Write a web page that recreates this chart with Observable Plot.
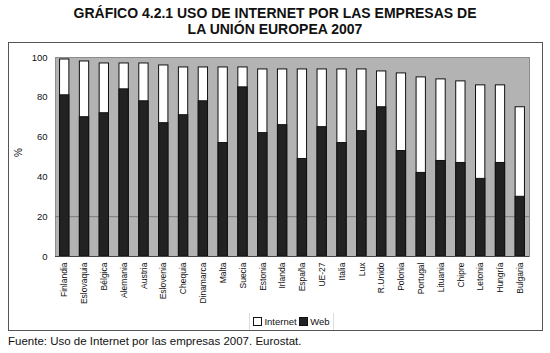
<!DOCTYPE html>
<html>
<head>
<meta charset="utf-8">
<script src="https://cdn.jsdelivr.net/npm/d3@7"></script>
<script src="https://cdn.jsdelivr.net/npm/@observablehq/plot@0.6"></script>
<style>
  body { margin: 0; background: white; width: 550px; height: 353px; position: relative; overflow: hidden;
         font-family: "Liberation Sans", Arial, sans-serif; }
  #title { position: absolute; top: 5px; left: 0; width: 550px; text-align: center;
           font-weight: bold; font-size: 14px; line-height: 16px; color: #111; }
  #box { position: absolute; left: 8px; top: 42px; width: 533px; height: 287px; border: 1px solid #555; }
  #chart { position: absolute; left: 0; top: 0; }
  #legend { position: absolute; left: 240px; top: 270px; width: 83px; height: 17px;
            border-left: 1px solid #ddd; border-right: 1px solid #ddd;
            font-size: 9.5px; color: #111; line-height: 17px; text-align: center; white-space: nowrap; }
  .sw { display: inline-block; width: 7px; height: 7px; border: 1px solid #111; vertical-align: -1px; margin-right: 2px; }
  #caption { position: absolute; left: 8px; top: 335px; font-size: 11.5px; color: #111; }
</style>
</head>
<body>
<div id="title">GRÁFICO 4.2.1 USO DE INTERNET POR LAS EMPRESAS DE<br>LA UNIÓN EUROPEA 2007</div>
<div id="box">
  <div id="chart"></div>
  <div id="legend"><span class="sw" style="background:white"></span>Internet <span class="sw" style="background:#222"></span>Web</div>
</div>
<div id="caption">Fuente: Uso de Internet por las empresas 2007. Eurostat.</div>
<script>
const countries = ["Finlandia","Eslovaquia","Bélgica","Alemania","Austria","Eslovenia","Chequia","Dinamarca","Malta","Suecia","Estonia","Irlanda","España","UE-27","Italia","Lux","R.Unido","Polonia","Portugal","Lituania","Chipre","Letonia","Hungría","Bulgaria"];
const internet = [99,98,97,97,97,96,95,95,95,95,94,94,94,94,94,94,93,92,90,89,88,86,86,75];
const web = [81,70,72,84,78,67,71,78,57,85,62,66,49,65,57,63,75,53,42,48,47,39,47,30];
const yTicks = [0,20,40,60,80,100];

const data = countries.map((c, i) => ({country: c, internet: internet[i], web: web[i]}));

const plot = Plot.plot({
  width: 533,
  height: 270,
  marginTop: 14,
  marginLeft: 46,
  marginRight: 13,
  marginBottom: 57,
  style: {fontFamily: "'Liberation Sans', Arial, sans-serif", fontSize: "9px", color: "#111", background: "white", overflow: "visible"},
  x: {domain: countries, paddingInner: 0.53, paddingOuter: 0.23, round: false, label: null},
  y: {domain: [0, 100], label: null},
  marks: [
    Plot.frame({fill: "#b3b3b3", stroke: "#8c8c8c"}),
    Plot.ruleY([20], {stroke: "#7a7a7a", strokeWidth: 1}),
    Plot.barY(data, {x: "country", y: "internet", fill: "white", stroke: "#111", strokeWidth: 1}),
    Plot.barY(data, {x: "country", y: "web", fill: "#222", stroke: "#111", strokeWidth: 1}),
    Plot.ruleY([0], {stroke: "#444"}),
    Plot.axisY({ticks: yTicks, tickSize: 0, tickPadding: 8, fontSize: 9.5, label: null}),
    Plot.axisX({tickRotate: -90, tickSize: 0, tickPadding: 6, fontSize: 8.5, label: null}),
    Plot.text(["%"], {frameAnchor: "left", dx: -37, rotate: -90, fontSize: 10})
  ]
});
document.getElementById("chart").appendChild(plot);
</script>
</body>
</html>
